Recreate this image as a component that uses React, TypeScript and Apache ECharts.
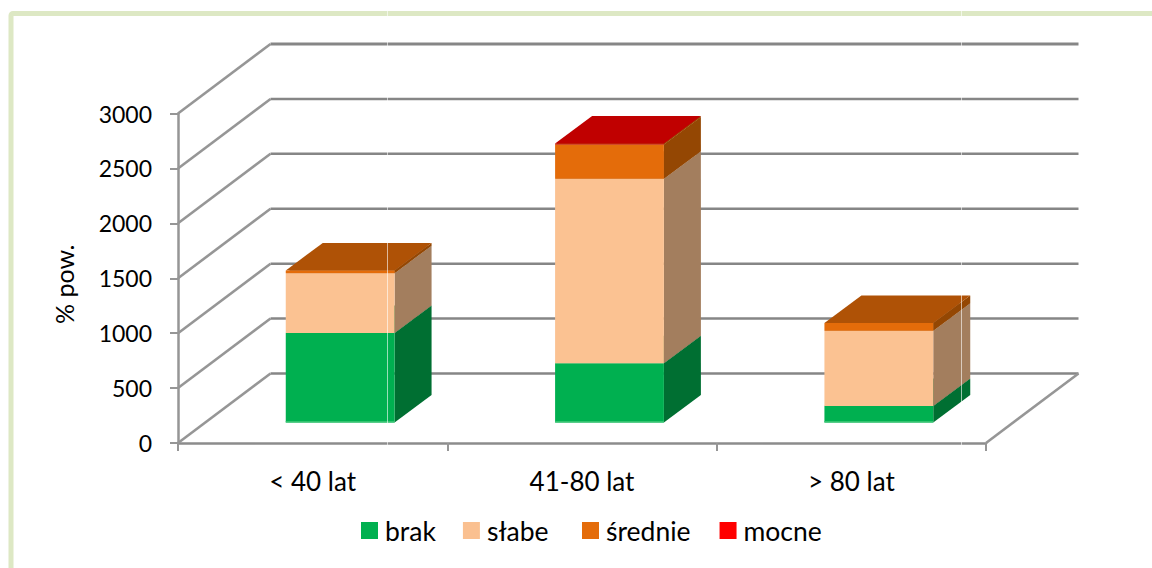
import React, { useEffect, useRef } from "react";
import * as echarts from "echarts";

const categories = ["< 40 lat", "41-80 lat", "> 80 lat"];
const seriesNames = ["brak", "słabe", "średnie", "mocne"];
const brak = [815, 540, 150];
const slabe = [545, 1680, 685];
const srednie = [25, 312, 72];
const mocne = [0, 8, 0];
const stackValues = [brak, slabe, srednie, mocne];
const yTicks = [0, 500, 1000, 1500, 2000, 2500, 3000];

const legendColors = ["#00B050", "#FAC090", "#E46C0A", "#FF0000"];
const frontColors = ["#00B050", "#FBC292", "#E46C0A", "#C80A0A"];
const sideColors = ["#006F32", "#A37E5E", "#944703", "#944703"];
const topColors = ["#007A38", "#B08560", "#AF5206", "#C00000"];
const baseStripe = "#33C36F";

const FONT = "Lato, 'Noto Sans', sans-serif";
const WALL_DX = 92.5;
const WALL_DY = -69.5;
const BAR_SHIFT_X = 27.5;
const BAR_SHIFT_Y = -20.5;
const BAR_DEPTH_X = 37;
const BAR_DEPTH_Y = -27.5;
const BAR_WIDTH_RATIO = 0.404;

function renderWall(params: any, api: any) {
  const cs = params.coordSys;
  const v = api.value(1);
  const y = api.coord([0, v])[1];
  const x0 = cs.x;
  const x1 = cs.x + cs.width;
  const children: any[] = [
    {
      type: "polyline",
      shape: { points: [[x0 + WALL_DX, y + WALL_DY], [x1 + WALL_DX, y + WALL_DY]] },
      style: { stroke: "#868686", lineWidth: v === 3000 ? 3 : 2.5, fill: "none" },
    },
    {
      type: "polyline",
      shape: { points: [[x0, y], [x0 + WALL_DX, y + WALL_DY]] },
      style: { stroke: "#969696", lineWidth: 2.6, fill: "none" },
    },
  ];
  if (v === 0) {
    children.push({
      type: "polyline",
      shape: { points: [[x1, y], [x1 + WALL_DX, y + WALL_DY]] },
      style: { stroke: "#969696", lineWidth: 2.6, fill: "none" },
    });
  }
  return { type: "group", children };
}

function makeBarRenderer(stackIndex: number) {
  return (_params: any, api: any) => {
    const start = api.value(1);
    const end = api.value(2);
    if (end <= start) return { type: "group", children: [] };
    const band = api.size([1, 0])[0];
    const w = band * BAR_WIDTH_RATIO;
    const low = api.coord([api.value(0), start]);
    const high = api.coord([api.value(0), end]);
    const xl = low[0] + BAR_SHIFT_X - w / 2;
    const xr = xl + w;
    const yb = low[1] + BAR_SHIFT_Y;
    const yt = high[1] + BAR_SHIFT_Y;
    const children: any[] = [
      {
        type: "polygon",
        shape: { points: [[xr, yb], [xr + BAR_DEPTH_X, yb + BAR_DEPTH_Y], [xr + BAR_DEPTH_X, yt + BAR_DEPTH_Y], [xr, yt]] },
        style: { fill: sideColors[stackIndex] },
      },
      {
        type: "polygon",
        shape: { points: [[xl, yt], [xr, yt], [xr + BAR_DEPTH_X, yt + BAR_DEPTH_Y], [xl + BAR_DEPTH_X, yt + BAR_DEPTH_Y]] },
        style: { fill: topColors[stackIndex] },
      },
      {
        type: "rect",
        shape: { x: xl, y: yt, width: w, height: yb - yt },
        style: { fill: frontColors[stackIndex] },
      },
    ];
    if (start === 0) {
      children.push({
        type: "rect",
        shape: { x: xl, y: yb - 1.5, width: w, height: 1.5 },
        style: { fill: baseStripe },
      });
    }
    return { type: "group", children };
  };
}

function stackData(stackIndex: number) {
  return categories.map((_c, i) => {
    let start = 0;
    for (let s = 0; s < stackIndex; s++) start += stackValues[s][i];
    return [i, start, start + stackValues[stackIndex][i]];
  });
}

const legendBase = {
  top: 512,
  itemWidth: 17,
  itemHeight: 17,
  icon: "rect",
  textStyle: { fontFamily: FONT, fontSize: 26.5, color: "#000000", padding: [0, 0, 0, 2] },
};

export default function App() {
  const ref = useRef<HTMLDivElement>(null);
  useEffect(() => {
    document.body.style.margin = "0";
    const chart = echarts.init(ref.current!, undefined, { renderer: "svg" });
    chart.setOption({
      animation: false,
      backgroundColor: "#FFFFFF",
      textStyle: { fontFamily: FONT },
      grid: { left: 178, top: 113.5, width: 808, height: 329.5 },
      legend: [
        { ...legendBase, data: seriesNames.slice(0, 2), left: 356, itemGap: 27 },
        { ...legendBase, data: seriesNames.slice(2), left: 577, itemGap: 29 },
      ],
      xAxis: {
        type: "category",
        data: categories,
        boundaryGap: true,
        axisLine: { lineStyle: { color: "#8C8C8C", width: 2.5 } },
        axisTick: { show: true, alignWithLabel: false, length: 8, lineStyle: { color: "#969696", width: 2 } },
        axisLabel: { color: "#000000", fontSize: 26, margin: 25, fontFamily: FONT, interval: 0 },
      },
      yAxis: {
        type: "value",
        min: 0,
        max: 3000,
        interval: 500,
        splitLine: { show: false },
        axisLine: { show: true, lineStyle: { color: "#969696", width: 2.5 } },
        axisTick: { show: true, length: 8, lineStyle: { color: "#969696", width: 2 } },
        axisLabel: { color: "#000000", fontSize: 23, margin: 26, fontFamily: FONT, formatter: (v: number) => String(v) },
        name: "% pow.",
        nameLocation: "middle",
        nameRotate: 90,
        nameGap: 102,
        nameTextStyle: { color: "#000000", fontSize: 25, fontFamily: FONT, padding: [0, 12, 0, 0] },
      },
      graphic: [
        {
          type: "rect",
          z: 100,
          shape: { x: 11, y: 13.5, width: 1300, height: 800, r: 2 },
          style: { fill: "none", stroke: "#DDE8C4", lineWidth: 5 },
        },
        {
          type: "line",
          z: 101,
          shape: { x1: 387.5, y1: 11, x2: 387.5, y2: 447 },
          style: { stroke: "#FFFFFF", lineWidth: 1, opacity: 0.6 },
        },
        {
          type: "line",
          z: 101,
          shape: { x1: 961.5, y1: 11, x2: 961.5, y2: 447 },
          style: { stroke: "#FFFFFF", lineWidth: 1, opacity: 0.6 },
        },
      ],
      series: [
        {
          type: "custom",
          silent: true,
          z: 1,
          renderItem: renderWall,
          encode: { x: 0, y: 1 },
          data: yTicks.map((t) => [0, t]),
        },
        ...seriesNames.map((name, i) => ({
          type: "custom",
          name,
          z: 3 + i,
          itemStyle: { color: legendColors[i] },
          renderItem: makeBarRenderer(i),
          encode: { x: 0, y: [1, 2] },
          data: stackData(i),
        })),
      ],
    });
    return () => chart.dispose();
  }, []);
  return <div ref={ref} style={{ position: "absolute", left: 0, top: 0, width: 1152, height: 568, overflow: "hidden" }} />;
}
